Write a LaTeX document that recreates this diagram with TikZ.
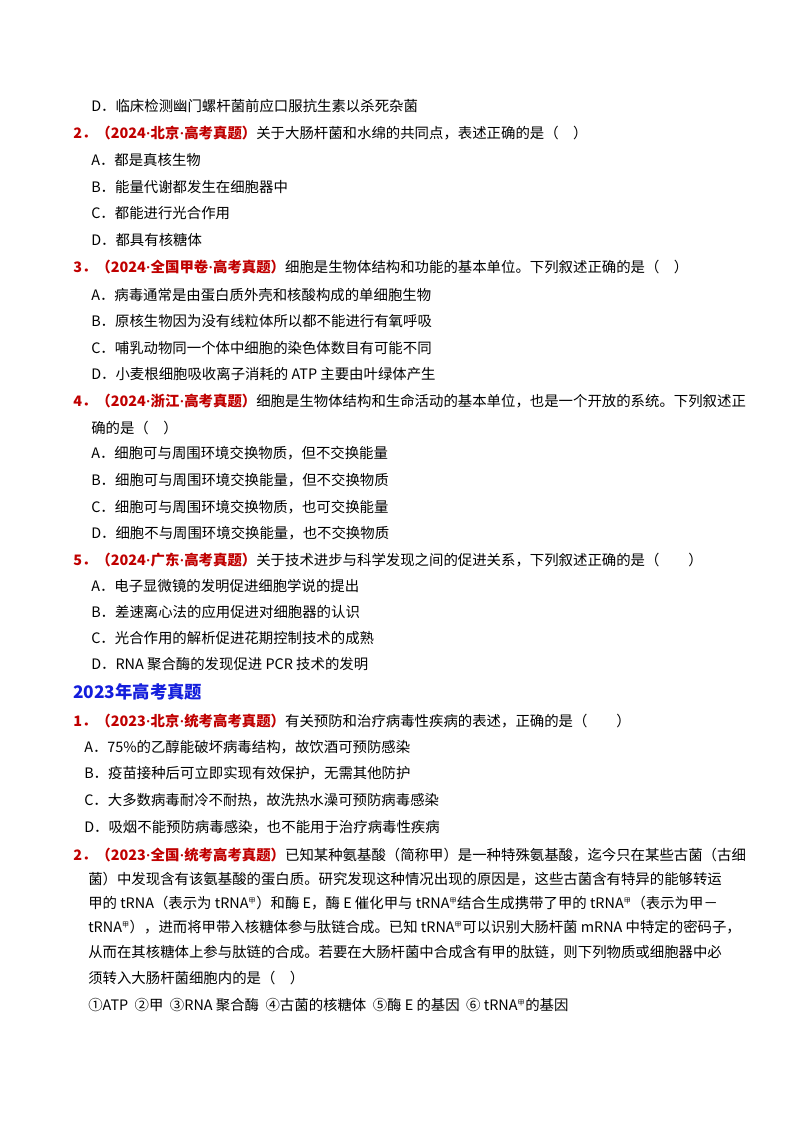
\documentclass[tikz,border=0pt]{standalone}
\usepackage{fontspec}
\setmainfont{Noto Sans CJK SC}
\newfontfamily\latinser{Liberation Serif}
\definecolor{qred}{RGB}{192,0,0}
\definecolor{hblue}{RGB}{20,30,220}
\newcommand{\jia}{\textsuperscript{\scalebox{0.7}{甲}}}
\newcommand{\dt}{{\latinser\bfseries ·}}
\begin{document}
\begin{tikzpicture}[x=0.75pt,y=-0.75pt,
  tx/.style={anchor=west,inner sep=0pt,font=\fontsize{10.8}{13}\selectfont}]
\useasboundingbox (0,0) rectangle (800,1132);
\fill[white] (0,0) rectangle (800,1132);
\node[tx] (l1) at (91,106) {D．临床检测幽门螺杆菌前应口服抗生素以杀死杂菌};
\node[tx] (l2) at (73,133) {\textcolor{qred}{\textbf{2．（2024\dt 北京\dt 高考真题）}}关于大肠杆菌和水绵的共同点，表述正确的是（\quad ）};
\node[tx] (l3) at (91,160) {A．都是真核生物};
\node[tx] (l4) at (91,187) {B．能量代谢都发生在细胞器中};
\node[tx] (l5) at (91,213) {C．都能进行光合作用};
\node[tx] (l6) at (91,240) {D．都具有核糖体};
\node[tx] (l7) at (73,267) {\textcolor{qred}{\textbf{3．（2024\dt 全国甲卷\dt 高考真题）}}细胞是生物体结构和功能的基本单位。下列叙述正确的是（\quad ）};
\node[tx] (l8) at (91,295) {A．病毒通常是由蛋白质外壳和核酸构成的单细胞生物};
\node[tx] (l9) at (91,321) {B．原核生物因为没有线粒体所以都不能进行有氧呼吸};
\node[tx] (l10) at (91,348) {C．哺乳动物同一个体中细胞的染色体数目有可能不同};
\node[tx] (l11) at (91,374) {D．小麦根细胞吸收离子消耗的 ATP 主要由叶绿体产生};
\node[tx] (l12) at (73,401) {\textcolor{qred}{\textbf{4．（2024\dt 浙江\dt 高考真题）}}细胞是生物体结构和生命活动的基本单位，也是一个开放的系统。下列叙述正};
\node[tx] (l13) at (91,428) {确的是（\quad ）};
\node[tx] (l14) at (91,453) {A．细胞可与周围环境交换物质，但不交换能量};
\node[tx] (l15) at (91,480) {B．细胞可与周围环境交换能量，但不交换物质};
\node[tx] (l16) at (91,507) {C．细胞可与周围环境交换物质，也可交换能量};
\node[tx] (l17) at (91,533) {D．细胞不与周围环境交换能量，也不交换物质};
\node[tx] (l18) at (73,560) {\textcolor{qred}{\textbf{5．（2024\dt 广东\dt 高考真题）}}关于技术进步与科学发现之间的促进关系，下列叙述正确的是（\qquad ）};
\node[tx] (l19) at (91,586) {A．电子显微镜的发明促进细胞学说的提出};
\node[tx] (l20) at (91,612) {B．差速离心法的应用促进对细胞器的认识};
\node[tx] (l21) at (91,638) {C．光合作用的解析促进花期控制技术的成熟};
\node[tx] (l22) at (91,664) {D．RNA 聚合酶的发现促进 PCR 技术的发明};
\node[tx,font=\fontsize{13}{15}\selectfont\bfseries,text=hblue] (h) at (73,692) {2023年高考真题};
\node[tx] (m1) at (73,721) {\textcolor{qred}{\textbf{1．（2023\dt 北京\dt 统考高考真题）}}有关预防和治疗病毒性疾病的表述，正确的是（\qquad ）};
\node[tx] (m2) at (84,747) {A．75\%的乙醇能破坏病毒结构，故饮酒可预防感染};
\node[tx] (m3) at (84,773) {B．疫苗接种后可立即实现有效保护，无需其他防护};
\node[tx] (m4) at (84,800) {C．大多数病毒耐冷不耐热，故洗热水澡可预防病毒感染};
\node[tx] (m5) at (84,827) {D．吸烟不能预防病毒感染，也不能用于治疗病毒性疾病};
\node[tx] (n1) at (73,855) {\textcolor{qred}{\textbf{2．（2023\dt 全国\dt 统考高考真题）}}已知某种氨基酸（简称甲）是一种特殊氨基酸，迄今只在某些古菌（古细};
\node[tx] (n2) at (88,879) {菌）中发现含有该氨基酸的蛋白质。研究发现这种情况出现的原因是，这些古菌含有特异的能够转运};
\node[tx] (n3) at (88,903) {甲的 tRNA（表示为 tRNA\jia）和酶 E，酶 E 催化甲与 tRNA\jia 结合生成携带了甲的 tRNA\jia（表示为甲－};
\node[tx] (n4) at (88,927) {tRNA\jia），进而将甲带入核糖体参与肽链合成。已知 tRNA\jia 可以识别大肠杆菌 mRNA 中特定的密码子，};
\node[tx] (n5) at (88,952) {从而在其核糖体上参与肽链的合成。若要在大肠杆菌中合成含有甲的肽链，则下列物质或细胞器中必};
\node[tx] (n6) at (88,978) {须转入大肠杆菌细胞内的是（\quad ）};
\node[tx] (n7) at (88,1005) {①ATP\ \ ②甲\ \ ③RNA 聚合酶\ \ ④古菌的核糖体\ \ ⑤酶 E 的基因\ \ ⑥ tRNA\jia 的基因};
\end{tikzpicture}
\end{document}
